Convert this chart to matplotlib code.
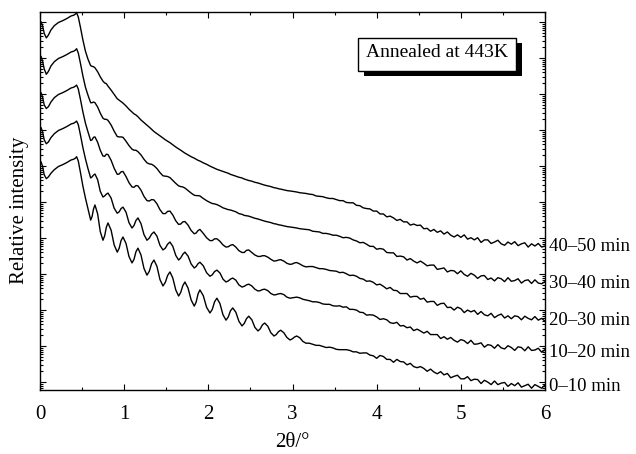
import numpy as np
import matplotlib
matplotlib.use("Agg")
import matplotlib.pyplot as plt
from matplotlib.ticker import LogLocator, NullFormatter, MultipleLocator
from matplotlib.patches import Rectangle

plt.rcParams['font.family'] = ['Liberation Serif', 'DejaVu Serif']

# ---------------- data (2theta in degrees, log10 of relative intensity) ----------------
two_theta_low = [0.000, 0.012, 0.030, 0.050, 0.075, 0.100, 0.130, 0.170, 0.220, 0.270,
                 0.320, 0.370, 0.400, 0.420, 0.435, 0.455, 0.480, 0.510, 0.540, 0.570]
two_theta_fringe = [0.602, 0.619, 0.636, 0.653, 0.685, 0.716, 0.748, 0.768, 0.788, 0.808,
                    0.845, 0.881, 0.918, 0.941, 0.963, 0.986, 1.022, 1.057, 1.093, 1.117,
                    1.140, 1.164, 1.200, 1.235, 1.271, 1.299, 1.326, 1.354, 1.390, 1.425,
                    1.461, 1.489, 1.516, 1.544, 1.578, 1.613, 1.647, 1.672, 1.697, 1.722,
                    1.759, 1.796, 1.833, 1.855, 1.878, 1.900, 1.940, 1.979, 2.019, 2.047,
                    2.074, 2.102, 2.138, 2.174, 2.210, 2.237, 2.263, 2.290, 2.327, 2.363,
                    2.400, 2.427, 2.453, 2.480, 2.517, 2.553, 2.590, 2.617, 2.643, 2.670,
                    2.707, 2.743, 2.780, 2.807, 2.833, 2.860, 2.897, 2.933, 2.970, 2.997,
                    3.023, 3.050, 3.087, 3.123, 3.160]
two_theta_tail = [3.20, 3.24, 3.28, 3.32, 3.36, 3.40, 3.44, 3.48, 3.52, 3.56,
                  3.60, 3.64, 3.68, 3.72, 3.76, 3.80, 3.84, 3.88, 3.92, 3.96,
                  4.00, 4.04, 4.08, 4.12, 4.16, 4.20, 4.24, 4.28, 4.32, 4.36,
                  4.40, 4.44, 4.48, 4.52, 4.56, 4.60, 4.64, 4.68, 4.72, 4.76,
                  4.80, 4.84, 4.88, 4.92, 4.96, 5.00, 5.04, 5.08, 5.12, 5.16,
                  5.20, 5.24, 5.28, 5.32, 5.36, 5.40, 5.44, 5.48, 5.52, 5.56,
                  5.60, 5.64, 5.68, 5.72, 5.76, 5.80, 5.84, 5.88, 5.92, 5.96, 6.00]
two_theta = two_theta_low + two_theta_fringe + two_theta_tail

log_I_40_50 = (
    [9.97, 10.01, 9.90, 9.69, 9.56, 9.64, 9.78, 9.90, 9.99, 10.04,
     10.10, 10.17, 10.19, 10.22, 10.26, 10.14, 9.86, 9.50, 9.19, 8.97]
    + [8.79, 8.77, 8.76, 8.73, 8.62, 8.48, 8.36, 8.31, 8.29, 8.22,
       8.11, 7.99, 7.87, 7.83, 7.79, 7.75, 7.67, 7.58, 7.50, 7.45,
       7.42, 7.37, 7.28, 7.21, 7.14, 7.08, 7.02, 6.96, 6.90, 6.84,
       6.78, 6.73, 6.69, 6.65, 6.59, 6.53, 6.48, 6.44, 6.40, 6.36,
       6.31, 6.26, 6.22, 6.19, 6.16, 6.14, 6.09, 6.05, 6.00, 5.97,
       5.94, 5.91, 5.88, 5.85, 5.82, 5.80, 5.77, 5.75, 5.72, 5.69,
       5.67, 5.64, 5.62, 5.60, 5.58, 5.55, 5.53, 5.51, 5.49, 5.47,
       5.45, 5.43, 5.40, 5.39, 5.37, 5.36, 5.34, 5.32, 5.31, 5.30,
       5.29, 5.28, 5.26, 5.25, 5.24]
    + [5.22, 5.21, 5.17, 5.16, 5.15, 5.12, 5.10, 5.10, 5.07, 5.04,
       5.04, 4.99, 4.98, 4.98, 4.91, 4.90, 4.84, 4.82, 4.81, 4.75,
       4.75, 4.67, 4.67, 4.59, 4.61, 4.56, 4.49, 4.52, 4.45, 4.45,
       4.36, 4.39, 4.35, 4.36, 4.26, 4.27, 4.19, 4.24, 4.16, 4.20,
       4.11, 4.17, 4.08, 4.03, 4.09, 4.02, 4.09, 3.97, 4.01, 3.95,
       4.01, 3.88, 3.95, 3.95, 3.85, 3.89, 3.94, 3.84, 3.80, 3.89,
       3.83, 3.90, 3.79, 3.84, 3.87, 3.75, 3.84, 3.78, 3.85, 3.75, 3.78]
)

log_I_30_40 = (
    [9.03, 9.05, 8.92, 8.70, 8.55, 8.63, 8.78, 8.90, 8.99, 9.04,
     9.10, 9.17, 9.19, 9.22, 9.26, 9.14, 8.86, 8.50, 8.19, 7.97]
    + [7.76, 7.76, 7.78, 7.76, 7.64, 7.47, 7.33, 7.30, 7.30, 7.27,
       7.14, 6.97, 6.82, 6.81, 6.81, 6.80, 6.69, 6.57, 6.47, 6.44,
       6.44, 6.40, 6.31, 6.19, 6.09, 6.06, 6.05, 6.01, 5.93, 5.82,
       5.73, 5.72, 5.71, 5.68, 5.60, 5.52, 5.45, 5.43, 5.42, 5.39,
       5.32, 5.25, 5.19, 5.18, 5.18, 5.17, 5.10, 5.04, 4.99, 4.96,
       4.95, 4.93, 4.89, 4.84, 4.81, 4.79, 4.78, 4.76, 4.73, 4.68,
       4.66, 4.63, 4.62, 4.61, 4.58, 4.55, 4.53, 4.51, 4.49, 4.47,
       4.45, 4.43, 4.40, 4.39, 4.37, 4.36, 4.34, 4.32, 4.31, 4.30,
       4.29, 4.28, 4.26, 4.25, 4.24]
    + [4.23, 4.19, 4.18, 4.17, 4.13, 4.13, 4.11, 4.08, 4.08, 4.05,
       4.01, 4.02, 4.00, 3.95, 3.92, 3.87, 3.88, 3.83, 3.77, 3.77,
       3.69, 3.71, 3.69, 3.60, 3.59, 3.59, 3.49, 3.50, 3.48, 3.39,
       3.43, 3.36, 3.31, 3.36, 3.30, 3.23, 3.25, 3.25, 3.13, 3.15,
       3.17, 3.06, 3.10, 3.09, 3.01, 3.09, 2.99, 2.94, 3.02, 2.97,
       2.88, 2.95, 2.96, 2.85, 2.89, 2.81, 2.90, 2.87, 2.79, 2.90,
       2.80, 2.82, 2.87, 2.75, 2.82, 2.84, 2.74, 2.84, 2.75, 2.73, 2.79]
)

log_I_20_30 = (
    [8.01, 8.04, 7.92, 7.70, 7.60, 7.65, 7.78, 7.90, 7.99, 8.04,
     8.10, 8.17, 8.19, 8.22, 8.25, 8.14, 7.86, 7.50, 7.19, 6.95]
    + [6.71, 6.73, 6.80, 6.81, 6.66, 6.44, 6.28, 6.27, 6.33, 6.32,
       6.16, 5.94, 5.77, 5.78, 5.84, 5.85, 5.71, 5.54, 5.42, 5.41,
       5.46, 5.45, 5.33, 5.16, 5.04, 5.03, 5.07, 5.06, 4.95, 4.79,
       4.68, 4.68, 4.74, 4.75, 4.64, 4.48, 4.38, 4.39, 4.45, 4.46,
       4.36, 4.21, 4.12, 4.14, 4.21, 4.24, 4.13, 4.01, 3.93, 3.93,
       3.98, 3.98, 3.91, 3.81, 3.75, 3.76, 3.80, 3.82, 3.75, 3.65,
       3.60, 3.60, 3.66, 3.67, 3.60, 3.53, 3.49, 3.49, 3.51, 3.51,
       3.47, 3.41, 3.36, 3.37, 3.39, 3.40, 3.36, 3.30, 3.27, 3.28,
       3.31, 3.32, 3.28, 3.23, 3.20]
    + [3.21, 3.21, 3.18, 3.15, 3.15, 3.13, 3.10, 3.09, 3.08, 3.04,
       3.05, 3.01, 2.96, 2.97, 2.94, 2.88, 2.86, 2.80, 2.81, 2.77,
       2.70, 2.72, 2.66, 2.59, 2.63, 2.55, 2.54, 2.46, 2.46, 2.46,
       2.36, 2.38, 2.38, 2.30, 2.33, 2.22, 2.24, 2.24, 2.13, 2.18,
       2.19, 2.07, 2.08, 2.00, 2.08, 2.04, 1.93, 2.00, 1.95, 1.99,
       1.88, 1.96, 1.87, 1.84, 1.91, 1.79, 1.85, 1.89, 1.78, 1.84,
       1.76, 1.84, 1.82, 1.73, 1.83, 1.77, 1.73, 1.82, 1.72, 1.77, 1.69]
)

log_I_10_20 = (
    [7.05, 7.07, 6.96, 6.73, 6.62, 6.67, 6.79, 6.90, 6.99, 7.04,
     7.10, 7.17, 7.19, 7.22, 7.25, 7.15, 6.87, 6.51, 6.20, 5.93]
    + [5.67, 5.70, 5.75, 5.78, 5.62, 5.30, 5.14, 5.17, 5.22, 5.25,
       5.11, 4.83, 4.69, 4.73, 4.82, 4.86, 4.72, 4.43, 4.28, 4.35,
       4.49, 4.56, 4.40, 4.10, 3.94, 4.00, 4.11, 4.17, 4.05, 3.80,
       3.67, 3.72, 3.83, 3.89, 3.77, 3.52, 3.39, 3.45, 3.55, 3.61,
       3.50, 3.28, 3.17, 3.21, 3.29, 3.33, 3.23, 3.04, 2.94, 2.98,
       3.07, 3.11, 3.03, 2.86, 2.78, 2.81, 2.86, 2.89, 2.83, 2.70,
       2.64, 2.66, 2.70, 2.72, 2.67, 2.58, 2.53, 2.54, 2.57, 2.58,
       2.54, 2.46, 2.42, 2.43, 2.45, 2.46, 2.43, 2.36, 2.33, 2.34,
       2.35, 2.36, 2.34, 2.30, 2.28]
    + [2.26, 2.23, 2.23, 2.21, 2.17, 2.16, 2.16, 2.12, 2.11, 2.12,
       2.08, 2.09, 2.02, 2.02, 2.00, 1.94, 1.93, 1.86, 1.87, 1.86,
       1.81, 1.74, 1.76, 1.73, 1.65, 1.63, 1.66, 1.56, 1.57, 1.51,
       1.53, 1.43, 1.47, 1.42, 1.36, 1.41, 1.32, 1.32, 1.32, 1.21,
       1.26, 1.19, 1.24, 1.16, 1.11, 1.18, 1.15, 1.07, 1.16, 1.05,
       1.06, 1.09, 0.97, 1.04, 1.02, 0.94, 1.04, 0.95, 0.92, 1.01,
       0.96, 0.88, 0.98, 0.96, 0.87, 0.98, 0.88, 0.89, 0.94, 0.83, 0.90]
)

log_I_0_10 = (
    [6.10, 6.12, 6.00, 5.76, 5.65, 5.70, 5.80, 5.90, 5.99, 6.04,
     6.10, 6.17, 6.19, 6.22, 6.26, 6.14, 5.83, 5.44, 5.11, 4.81]
    + [4.50, 4.60, 4.81, 4.92, 4.67, 4.18, 3.94, 4.06, 4.30, 4.42,
       4.22, 3.81, 3.61, 3.72, 3.93, 4.03, 3.85, 3.49, 3.31, 3.41,
       3.62, 3.72, 3.53, 3.16, 2.97, 3.08, 3.29, 3.39, 3.21, 2.85,
       2.67, 2.77, 2.96, 3.06, 2.89, 2.56, 2.39, 2.49, 2.68, 2.78,
       2.61, 2.28, 2.11, 2.22, 2.45, 2.56, 2.40, 2.08, 1.92, 2.02,
       2.23, 2.33, 2.18, 1.87, 1.72, 1.81, 1.98, 2.06, 1.94, 1.69,
       1.56, 1.63, 1.76, 1.83, 1.73, 1.52, 1.42, 1.48, 1.59, 1.64,
       1.55, 1.37, 1.28, 1.32, 1.40, 1.44, 1.37, 1.24, 1.17, 1.20,
       1.25, 1.28, 1.23, 1.13, 1.08]
    + [1.08, 1.05, 1.02, 1.02, 0.99, 0.96, 0.97, 0.95, 0.91, 0.90,
       0.90, 0.90, 0.88, 0.84, 0.84, 0.80, 0.81, 0.81, 0.75, 0.73,
       0.66, 0.74, 0.71, 0.63, 0.63, 0.55, 0.63, 0.57, 0.56, 0.48,
       0.52, 0.43, 0.40, 0.43, 0.38, 0.30, 0.36, 0.28, 0.23, 0.29,
       0.20, 0.24, 0.12, 0.16, 0.19, 0.09, 0.09, 0.15, 0.04, 0.08,
       0.07, -0.04, 0.05, 0.00, -0.07, 0.03, -0.07, -0.03, -0.01, -0.12,
       -0.04, -0.10, -0.02, -0.14, -0.10, -0.06, -0.17, -0.07, -0.12, -0.17, -0.08]
)

series_names = ['0\u201310 min', '10\u201320 min', '20\u201330 min', '30\u201340 min', '40\u201350 min']
series_values = [log_I_0_10, log_I_10_20, log_I_20_30, log_I_30_40, log_I_40_50]
annotation = 'Annealed at 443K'

for name, vals in zip(series_names, series_values):
    if len(vals) != len(two_theta):
        raise ValueError(f"{name}: {len(vals)} values vs {len(two_theta)} angles")

# ---------------- figure ----------------
fig = plt.figure(figsize=(6.36, 4.54), dpi=100)
ax = fig.add_axes([40 / 636, 64 / 454, 505 / 636, 378 / 454])

x = np.asarray(two_theta)
for vals in series_values:
    ax.plot(x, 10.0 ** np.asarray(vals), color='black', lw=1.0, solid_joinstyle='round')

ax.set_yscale('log')
ax.set_xlim(0, 6)
ax.set_ylim(10 ** -0.22, 10 ** 10.28)

ax.xaxis.set_major_locator(MultipleLocator(1))
ax.xaxis.set_minor_locator(MultipleLocator(0.5))
ax.yaxis.set_major_locator(LogLocator(base=10, numticks=30))
ax.yaxis.set_minor_locator(LogLocator(base=10, subs=np.arange(2, 10), numticks=30))
ax.yaxis.set_minor_formatter(NullFormatter())

ax.tick_params(which='both', direction='in', top=True, right=True, width=0.8)
ax.tick_params(which='major', length=4.5)
ax.tick_params(which='minor', length=2.5)
ax.tick_params(axis='y', which='both', labelleft=False, labelright=False)
ax.tick_params(axis='x', labelsize=15, pad=10.5)
for sp in ax.spines.values():
    sp.set_linewidth(1.0)

ax.text(0.5, -0.140, '2\u03b8/\u00b0', transform=ax.transAxes, ha='center', va='center', fontsize=15)
ax.text(-0.040, 0.476, 'Relative intensity', transform=ax.transAxes, rotation=90,
        ha='center', va='center', fontsize=15)

# right-hand labels, placed near the right end of each curve
label_levels = [-0.13, 0.81, 1.72, 2.75, 3.76]
trans = matplotlib.transforms.blended_transform_factory(ax.transAxes, ax.transData)
for name, lv in zip(series_names, label_levels):
    ax.text(1.008, 10 ** lv, name, transform=trans, ha='left', va='center', fontsize=13.5,
            clip_on=False)

# annotation box with drop shadow
ax.add_patch(Rectangle((0.6416, 0.8307), 0.9545 - 0.6416, 0.918 - 0.8307, transform=ax.transAxes,
                       facecolor='black', edgecolor='none', zorder=5))
ax.add_patch(Rectangle((0.6297, 0.8439), 0.9426 - 0.6297, 0.9312 - 0.8439, transform=ax.transAxes,
                       facecolor='white', edgecolor='black', lw=1.0, zorder=6))
ax.text((0.6297 + 0.9426) / 2, (0.8439 + 0.9312) / 2 + 0.004, annotation, transform=ax.transAxes,
        ha='center', va='center', fontsize=14, zorder=7)

fig.savefig('out.png', dpi=100)
